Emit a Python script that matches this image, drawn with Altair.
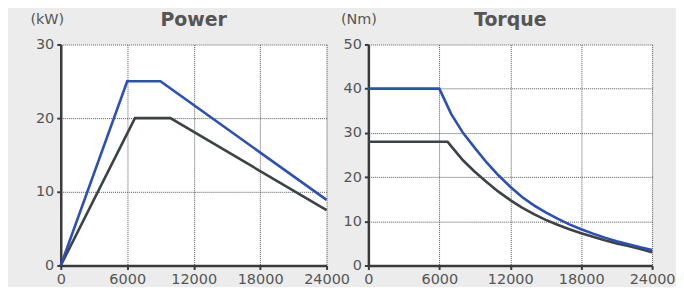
import altair as alt
import pandas as pd

# ---- data ----
power_speed_max = [0, 6000, 9000, 24000]
power_max = [0, 25, 25, 8.9]
power_speed_rated = [0, 6700, 9900, 24000]
power_rated = [0, 20, 20, 7.5]

torque_speed_max = [0, 6000, 7000, 8000, 9000, 10000, 11000, 12000, 13000, 14000,
                    15000, 16000, 17000, 18000, 19000, 20000, 21000, 22000, 23000, 24000]
torque_max = [40, 40, 34.3, 30.0, 26.6, 23.3, 20.4, 17.8, 15.5, 13.6,
              12.0, 10.6, 9.3, 8.2, 7.2, 6.3, 5.5, 4.8, 4.1, 3.5]
torque_speed_rated = [0, 6700, 7000, 8000, 9000, 10000, 11000, 12000, 13000, 14000,
                      15000, 16000, 17000, 18000, 19000, 20000, 21000, 22000, 23000, 24000]
torque_rated = [28, 28, 27.0, 23.8, 21.2, 18.9, 16.7, 14.8, 13.1, 11.6,
                10.3, 9.2, 8.2, 7.3, 6.5, 5.7, 5.0, 4.4, 3.7, 3.0]

x_ticks = [0, 6000, 12000, 18000, 24000]
power_ticks = [0, 10, 20, 30]
torque_ticks = [0, 10, 20, 30, 40, 50]

series_names = ["max", "rated"]
series_colors = ["#2b50b5", "#3c4346"]

def frame(speeds_a, vals_a, speeds_b, vals_b):
    a = pd.DataFrame({"speed": speeds_a, "value": vals_a, "series": series_names[0]})
    b = pd.DataFrame({"speed": speeds_b, "value": vals_b, "series": series_names[1]})
    return pd.concat([b, a], ignore_index=True)

power_df = frame(power_speed_max, power_max, power_speed_rated, power_rated)
torque_df = frame(torque_speed_max, torque_max, torque_speed_rated, torque_rated)

FONT = "DejaVu Sans"
TXT = "#555555"
LBL = 14.5

def panel(df, title, unit, ymax, yticks, w, h, unit_x):
    x_axis = alt.Axis(values=x_ticks, title=None, grid=True, labelFontSize=LBL,
                      labelColor=TXT, labelFont=FONT, labelPadding=3, format="d",
                      labelOverlap=False, labelFlush=False,
                      domainColor="#3a3a3a", domainWidth=2.5, tickColor="#3a3a3a",
                      tickWidth=2, tickSize=4, gridColor="#555555", gridDash=[1, 1],
                      gridWidth=1)
    y_axis = alt.Axis(values=yticks, title=unit, titleAngle=0, titleX=unit_x, titleY=-21,
                      titleAlign="center", titleBaseline="alphabetic", titleFontSize=14.5,
                      titleFontWeight="normal", titleColor=TXT, titleFont=FONT,
                      grid=True, labelFontSize=LBL, labelColor=TXT, labelFont=FONT,
                      labelPadding=3, labelOverlap=False, labelFlush=False,
                      domainColor="#3a3a3a", domainWidth=2.5,
                      tickColor="#3a3a3a", tickWidth=2, tickSize=4,
                      gridColor="#555555", gridDash=[1, 1], gridWidth=1)
    return alt.Chart(df).mark_line(strokeWidth=2.6).encode(
        x=alt.X("speed:Q", scale=alt.Scale(domain=[0, 24000], nice=False), axis=x_axis),
        y=alt.Y("value:Q", scale=alt.Scale(domain=[0, ymax], nice=False), axis=y_axis),
        color=alt.Color("series:N", scale=alt.Scale(domain=series_names, range=series_colors),
                        legend=None),
        order=alt.Order("speed:Q"),
    ).properties(
        width=w, height=h,
        title=alt.TitleParams(title, fontSize=19, fontWeight="bold", color=TXT, font=FONT,
                              anchor="middle", frame="group", offset=-33,
                              baseline="alphabetic"),
    )

left = panel(power_df, "Power", "(kW)", 30, power_ticks, 267, 222, -14)
right = panel(torque_df, "Torque", "(Nm)", 50, torque_ticks, 285, 222, -10)

chart = alt.hconcat(left, right, spacing=42, bounds="flush").properties(
    padding={"left": 21, "top": 2, "right": 0, "bottom": 0},
    background="#ececec",
).configure_view(fill="white", strokeWidth=0)

chart.save("out.html", embed_options={"renderer": "svg", "actions": False})
